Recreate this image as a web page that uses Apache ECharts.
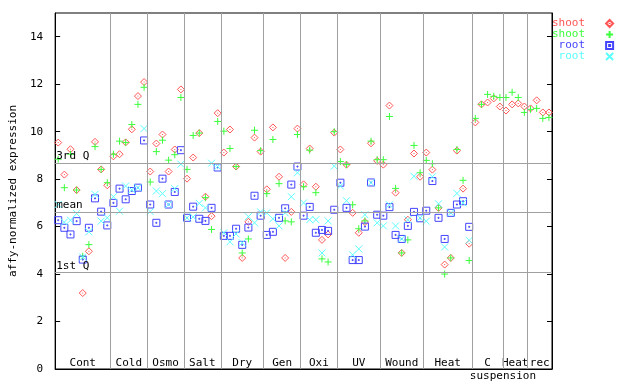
<!DOCTYPE html>
<html><head><meta charset="utf-8">
<script src="https://cdn.jsdelivr.net/npm/echarts@6/dist/echarts.min.js"></script>
<style>html,body{margin:0;padding:0;background:#fff}#c{width:640px;height:384px}</style>
</head><body><div id="c"></div>
<script>
// ---- data ----
const groupNames = ['Cont','Cold','Osmo','Salt','Dry','Gen','Oxi','UV','Wound','Heat','C','Heat','rec'];
const groupSizes = [9,6,6,6,7,6,6,7,7,8,5,4,4];
const subLabelText = 'suspension';
const subLabelSpan = [68, 78];

const shootA = [
  9.54,8.19,9.26,7.54,3.2,4.96,9.57,8.41,7.74,
  8.96,9.05,9.55,10.1,11.5,12.09,
  8.32,9.5,9.88,8.32,9.25,11.78,
  8.02,8.91,9.94,7.26,6.44,10.78,
  9.12,10.09,8.53,4.68,6.2,9.75,9.16,
  7.57,10.18,8.1,4.68,6.62,10.13,
  7.78,9.29,7.68,5.44,5.67,9.96,
  9.25,8.61,6.58,5.74,6.19,9.51,8.77,
  8.61,11.1,7.43,4.89,6.29,9.08,8.1,
  9.12,8.4,6.79,4.4,4.68,9.2,7.6,5.28,
  10.39,11.15,11.23,11.4,11.06,
  10.89,11.15,11.19,11.06,
  10.98,11.32,10.81,10.81
];
const shootB = [
  8.84,7.64,9.05,7.54,4.75,5.24,9.37,8.41,7.85,
  9.05,9.6,9.54,10.3,11.15,11.87,
  7.88,9.16,9.64,8.8,9.03,11.44,
  8.41,9.84,9.94,7.22,5.88,10.43,
  10.02,9.29,8.53,4.89,5.48,10.06,9.2,
  7.39,9.67,7.81,6.24,6.2,9.88,
  7.68,9.22,7.43,4.64,4.51,10.0,
  8.74,8.61,6.92,5.91,6.24,9.6,8.82,
  8.82,10.64,7.61,4.89,5.44,9.42,8.27,
  8.79,8.65,6.79,4.0,4.68,9.25,7.95,4.57,
  10.56,11.15,11.57,11.49,11.44,
  11.44,11.66,11.44,10.81,
  10.94,10.98,10.56,10.6
];
const rootA = [
  6.27,5.95,5.67,6.23,4.61,5.95,7.19,6.63,6.05,
  7.0,7.6,7.15,7.5,7.64,9.63,
  6.93,6.16,8.02,6.93,7.46,9.22,
  6.37,6.84,6.33,6.24,6.79,8.49,
  5.61,5.61,5.91,5.23,5.96,7.3,6.46,
  5.65,5.78,6.37,6.77,7.77,8.53,
  6.46,6.83,5.74,5.86,5.82,6.71,
  7.85,6.79,4.59,4.59,6.0,7.86,6.5,
  6.46,6.82,5.65,5.48,6.03,6.62,6.35,
  6.67,7.92,6.37,5.48,6.58,6.93,7.07,5.99,
  null,null,null,null,null,
  null,null,null,null,
  null,null,null,null
];
const rootB = [
  6.93,6.19,6.27,6.55,4.72,5.78,7.36,6.23,6.37,
  7.26,6.65,7.71,7.55,7.64,10.13,
  6.63,7.5,7.39,6.93,7.6,8.63,
  6.37,6.41,6.98,6.79,8.67,8.53,
  5.74,5.36,5.69,5.32,6.42,6.16,6.62,
  6.58,6.33,6.03,6.58,7.26,8.27,
  7.0,6.29,6.29,4.89,6.24,8.55,
  7.71,7.09,4.81,5.06,6.5,7.85,6.16,
  6.03,6.92,6.03,5.48,6.29,8.12,6.37,
  6.23,8.1,6.96,5.14,6.58,7.4,7.0,5.42,
  null,null,null,null,null,
  null,null,null,null,
  null,null,null,null
];
const yTicks = [0,2,4,6,8,10,12,14];
const refNames = ['3rd Q','mean','1st Q'];
const refValues = [8.68, 6.61, 4.08];

// ---- style ----
const FONT = 'DejaVu Sans Mono';
const RED = '#ff5555', GREEN = '#3cff3c', BLUE = '#4444ff', CYAN = '#5cffff';
const GRAY = '#a0a0a0';
const SYM_DIAMOND = 'path://M3.5,0 L7,3.5 L3.5,7 L0,3.5 Z M3.5,3 L3.5,4';
const SYM_PLUS = 'path://M0,3.5 L7,3.5 M3.5,0 L3.5,7';
const SYM_SQUARE = 'path://M0,0 L7,0 L7,7 L0,7 Z M3,3 L4,3 L4,4 L3,4 Z';
const SYM_CROSS = 'path://M0,0 L7,7 M7,0 L0,7';

const nSamples = groupSizes.reduce((a,b)=>a+b,0);
const starts = [];
let acc = 0;
groupSizes.forEach(s => { starts.push(acc); acc += s; });
const boundaries = starts.slice(1);

function pts(arr){ return arr.map((v,i)=> v==null ? null : [i+0.5, v]).filter(Boolean); }

function scat(name, arr, sym, col){
  return {
    name, type:'scatter', data: pts(arr), symbol: sym, symbolSize: 7, z: 3,
    itemStyle: {color:'rgba(0,0,0,0)', borderColor: col, borderWidth: 1, opacity: 1},
    emphasis: {disabled: true}, silent: true
  };
}

const labelFont = {fontFamily: FONT, fontSize: 11, color: '#000'};

const areaData = groupNames.map((g,k)=>[
  {name: g, xAxis: starts[k], label: Object.assign({show:true, position:'insideBottom', distance: 0}, labelFont)},
  {xAxis: starts[k] + groupSizes[k]}
]);
areaData.push([
  {name: subLabelText, xAxis: subLabelSpan[0], label: Object.assign({show:true, position:'bottom', distance: 2}, labelFont)},
  {xAxis: subLabelSpan[1]}
]);

const lineData = boundaries.map(b => ({xAxis: b, label:{show:false}}))
  .concat(refNames.map((n,k)=>({yAxis: refValues[k], name: n,
    label: Object.assign({show:true, position:'insideStartTop', formatter: n, distance:[1,1]}, labelFont)})));

const chart = echarts.init(document.getElementById('c'), null, {renderer:'canvas'});
chart.setOption({
  animation: false,
  backgroundColor: '#fff',
  grid: {left: 44, right: 88, top: 13, bottom: 15, show: true, borderColor: '#000', borderWidth: 1, backgroundColor: 'rgba(0,0,0,0)'},
  xAxis: {type:'value', min: 0, max: nSamples,
    axisLine:{show:true, lineStyle:{color:'#000', width:1}}, axisTick:{show:false}, axisLabel:{show:false}, splitLine:{show:false}},
  yAxis: [
    {type:'value', min:0, max:15, position:'left',
      axisLine:{show:true, lineStyle:{color:'#000', width:1}},
      axisTick:{show:true, inside:true, length:5, lineStyle:{color:'#000'}, customValues: yTicks},
      axisLabel:{show:true, margin:12, fontFamily: FONT, fontSize: 11, color:'#000', customValues: yTicks},
      splitLine:{show:false},
      name:'affy-normalized expression', nameLocation:'middle', nameGap: 28,
      nameTextStyle:{fontFamily: FONT, fontSize: 11, color:'#000'}},
    {type:'value', min:0, max:15, position:'right',
      axisLine:{show:true, lineStyle:{color:'#000', width:1}},
      axisTick:{show:true, inside:true, length:5, lineStyle:{color:'#000'}, customValues: yTicks},
      axisLabel:{show:false}, splitLine:{show:false}}
  ],
  legend: {
    orient:'vertical', left: 552, top: 18, padding: 0, itemGap: 0, itemWidth: 7, itemHeight: 7, align:'right',
    selectedMode: false,
    formatter: n => '{' + (n === 'shoot' ? 'r' : n === 'shoot ' ? 'g' : n === 'root' ? 'b' : 'c') + '|' + n.trim() + '}',
    textStyle: {fontFamily: FONT, fontSize: 11,
      rich: {
        r:{color:RED, width:33, align:'right', padding:[0,16,0,0], lineHeight:11, fontFamily:FONT, fontSize:11},
        g:{color:GREEN, width:33, align:'right', padding:[0,16,0,0], lineHeight:11, fontFamily:FONT, fontSize:11},
        b:{color:BLUE, width:33, align:'right', padding:[0,16,0,0], lineHeight:11, fontFamily:FONT, fontSize:11},
        c:{color:CYAN, width:33, align:'right', padding:[0,16,0,0], lineHeight:11, fontFamily:FONT, fontSize:11}
      }},
    data: ['shoot','shoot ','root','root ']
  },
  series: [
    {type:'scatter', data: [], z: 1, silent: true,
      markArea: {silent:true, itemStyle:{color:'rgba(0,0,0,0)'}, data: areaData},
      markLine: {silent:true, symbol:['none','none'], animation:false,
        lineStyle:{color: GRAY, width: 1, type:'solid'}, emphasis:{disabled:true}, data: lineData}
    },
    scat('shoot', shootA, SYM_DIAMOND, RED),
    scat('shoot ', shootB, SYM_PLUS, GREEN),
    scat('root', rootA, SYM_SQUARE, BLUE),
    scat('root ', rootB, SYM_CROSS, CYAN)
  ]
});
</script>
</body></html>
